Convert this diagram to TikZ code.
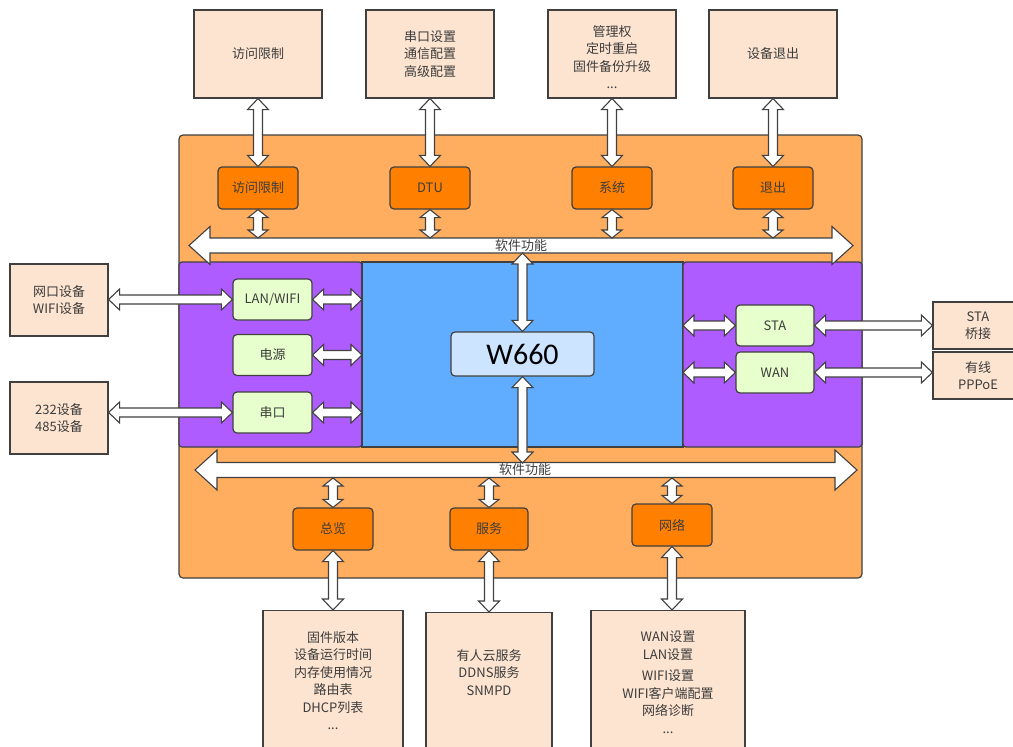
\documentclass[tikz,border=0pt]{standalone}
\usepackage{fontspec}
\setmainfont{Noto Sans CJK SC}
\newfontfamily\chipfont{Carlito}
\usetikzlibrary{calc}

\definecolor{borde}{RGB}{64,64,64}
\definecolor{texto}{RGB}{60,60,60}
\definecolor{melocoton}{RGB}{252,228,208}
\definecolor{panelnaranja}{RGB}{255,173,94}
\definecolor{naranja}{RGB}{255,128,0}
\definecolor{lila}{RGB}{174,92,255}
\definecolor{azul}{RGB}{96,172,255}
\definecolor{celeste}{RGB}{204,228,255}
\definecolor{verde}{RGB}{230,255,204}

\tikzset{
	caja/.style={draw=borde, fill=melocoton, line width=1.2pt, minimum width=128pt, minimum height=88pt, align=center, text=texto, font=\fontsize{13}{17.5}\selectfont},
	modulo/.style={draw=borde, fill=naranja, rounded corners=4pt, line width=1.2pt, minimum width=80pt, minimum height=42pt, text=texto, font=\fontsize{13}{17.5}\selectfont},
	puerto/.style={modulo, fill=verde, minimum width=79pt, minimum height=41pt},
	lista/.style={align=center, inner sep=0pt, text=texto, font=\fontsize{13}{17.5}\selectfont},
	flecha/.style={draw=borde, fill=white, line width=1.1pt},
}

% flecha doble de bloque entre dos puntos: eje, punta, largo de punta
\newcommand{\flechadoble}[5]{
	\coordinate (arrA) at (#1);
	\coordinate (arrB) at (#2);
	\coordinate (arrHa) at ($(arrA)!#5!(arrB)$);
	\coordinate (arrHb) at ($(arrB)!#5!(arrA)$);
	\draw[flecha] (arrA) -- ($(arrHa)!#4!90:(arrB)$) -- ($(arrHa)!#3!90:(arrB)$)
		-- ($(arrHb)!#3!-90:(arrA)$) -- ($(arrHb)!#4!-90:(arrA)$) -- (arrB)
		-- ($(arrHb)!#4!90:(arrA)$) -- ($(arrHb)!#3!90:(arrA)$)
		-- ($(arrHa)!#3!-90:(arrB)$) -- ($(arrHa)!#4!-90:(arrB)$) -- cycle;
}
\newcommand{\enlace}[2]{\flechadoble{#1}{#2}{4.5pt}{10.5pt}{11pt}}
\newcommand{\enlacecorto}[2]{\flechadoble{#1}{#2}{4.5pt}{10pt}{8pt}}

\begin{document}
\begin{tikzpicture}[x=1pt,y=-1pt]
	\useasboundingbox (0,0) rectangle (1013,747);

	% Panel del equipo
	\draw[draw=borde, fill=panelnaranja, line width=1.2pt, rounded corners=4pt] (179,135) rectangle (862,578);
	\draw[draw=borde, fill=lila, line width=1.2pt, rounded corners=3pt] (179,262) rectangle (362,447);
	\draw[draw=borde, fill=azul, line width=1.2pt] (362,262) rectangle (683,447);
	\draw[draw=borde, fill=lila, line width=1.2pt, rounded corners=3pt] (683,262) rectangle (862,447);

	% Buses de software
	\coordinate (busA1) at (189,245.5);
	\coordinate (busA2) at (853,245.5);
	\coordinate (busB1) at (195,470);
	\coordinate (busB2) at (857,470);
	\coordinate (busAtop) at (0,238);
	\coordinate (busAbot) at (0,253);
	\coordinate (busBtop) at (0,463);
	\coordinate (busBbot) at (0,478);
	\coordinate (azulL) at (362,0);
	\coordinate (azulR) at (683,0);
	\flechadoble{busA1}{busA2}{7.5pt}{19pt}{21pt}
	\flechadoble{busB1}{busB2}{7.5pt}{20pt}{22pt}
	\node[lista] (busAtxt) at (521,246) {软件功能};
	\node[lista] (busBtxt) at (525,470) {软件功能};

	% Cajas superiores
	\node[caja] (acceso) at (258,54) {访问限制};
	\node[caja] (dtucfg) at (430,54) {串口设置\\通信配置\\高级配置};
	\node[caja] (sistcfg) at (612,54) {};
	\node[lista] (tsist) at (612,57) {管理权\\定时重启\\固件备份升级\\...};
	\node[caja] (salida) at (773,54) {设备退出};

	% Modulos superiores
	\node[modulo] (macceso) at (258,188) {访问限制};
	\node[modulo] (mdtu) at (430,188) {DTU};
	\node[modulo] (msist) at (612,188) {系统};
	\node[modulo] (msalida) at (773,188) {退出};

	\enlace{acceso.south}{macceso.north}
	\enlace{dtucfg.south}{mdtu.north}
	\enlace{sistcfg.south}{msist.north}
	\enlace{salida.south}{msalida.north}
	\enlacecorto{macceso.south}{macceso.south |- busAtop}
	\enlacecorto{mdtu.south}{mdtu.south |- busAtop}
	\enlacecorto{msist.south}{msist.south |- busAtop}
	\enlacecorto{msalida.south}{msalida.south |- busAtop}

	% Lado izquierdo
	\node[caja, minimum width=98pt, minimum height=72pt] (redlocal) at (59,300) {网口设备\\WIFI设备};
	\node[caja, minimum width=98pt, minimum height=72pt] (serie) at (59,418) {232设备\\485设备};
	\node[puerto] (lan) at (272.5,299.5) {LAN/WIFI};
	\node[puerto] (power) at (272.5,355) {电源};
	\node[puerto] (uart) at (272.5,412.5) {串口};
	\enlace{redlocal.east |- lan.west}{lan.west}
	\enlace{serie.east |- uart.west}{uart.west}
	\enlace{lan.east}{lan.east -| azulL}
	\enlace{power.east}{power.east -| azulL}
	\enlace{uart.east}{uart.east -| azulL}

	% Nucleo
	\node[draw=borde, fill=celeste, line width=1.2pt, rounded corners=4pt, minimum width=143pt, minimum height=44pt, font=\chipfont\fontsize{30}{30}\selectfont] (chip) at (522.5,354) {W660};
	\enlace{chip.north |- busAbot}{chip.north}
	\enlace{chip.south}{chip.south |- busBtop}

	% Lado derecho
	\node[puerto, minimum width=78pt] (sta) at (775,325.5) {STA};
	\node[puerto, minimum width=78pt] (wan) at (775,372.5) {WAN};
	\node[caja, minimum width=90pt, minimum height=47pt] (puente) at (978,325.5) {STA\\桥接};
	\node[caja, minimum width=90pt, minimum height=47pt] (pppoe) at (978,375.5) {有线\\PPPoE};
	\enlace{sta.west -| azulR}{sta.west}
	\enlace{wan.west -| azulR}{wan.west}
	\enlace{sta.east}{puente.west |- sta.east}
	\enlace{wan.east}{pppoe.west |- wan.east}

	% Modulos inferiores
	\node[modulo] (resumen) at (333,529) {总览};
	\node[modulo, minimum width=78pt] (servicio) at (489,529) {服务};
	\node[modulo] (red) at (672,525) {网络};
	\enlacecorto{resumen.north |- busBbot}{resumen.north}
	\enlacecorto{servicio.north |- busBbot}{servicio.north}
	\enlacecorto{red.north |- busBbot}{red.north}

	% Cajas inferiores
	\node[caja, anchor=north, minimum width=140pt, minimum height=150pt] (bresumen) at (333,610) {};
	\node[caja, anchor=north, minimum width=126pt, minimum height=150pt] (bservicio) at (489,612) {};
	\node[caja, anchor=north, minimum width=154pt, minimum height=150pt] (bred) at (668,610) {};
	\node[lista, anchor=north] (tresumen) at ($(bresumen.north)+(0,21)$) {固件版本\\设备运行时间\\内存使用情况\\路由表\\DHCP列表\\...};
	\node[lista, anchor=north] (tservicio) at ($(bservicio.north)+(0,37)$) {有人云服务\\DDNS服务\\SNMPD};
	\node[lista, anchor=north] (tred) at ($(bred.north)+(0,21)$) {WAN设置\\LAN设置\\[4pt]WIFI设置\\WIFI客户端配置\\网络诊断\\...};
	\enlace{resumen.south}{resumen.south |- bresumen.north}
	\enlace{servicio.south}{servicio.south |- bservicio.north}
	\enlace{red.south}{red.south |- bred.north}
\end{tikzpicture}
\end{document}
